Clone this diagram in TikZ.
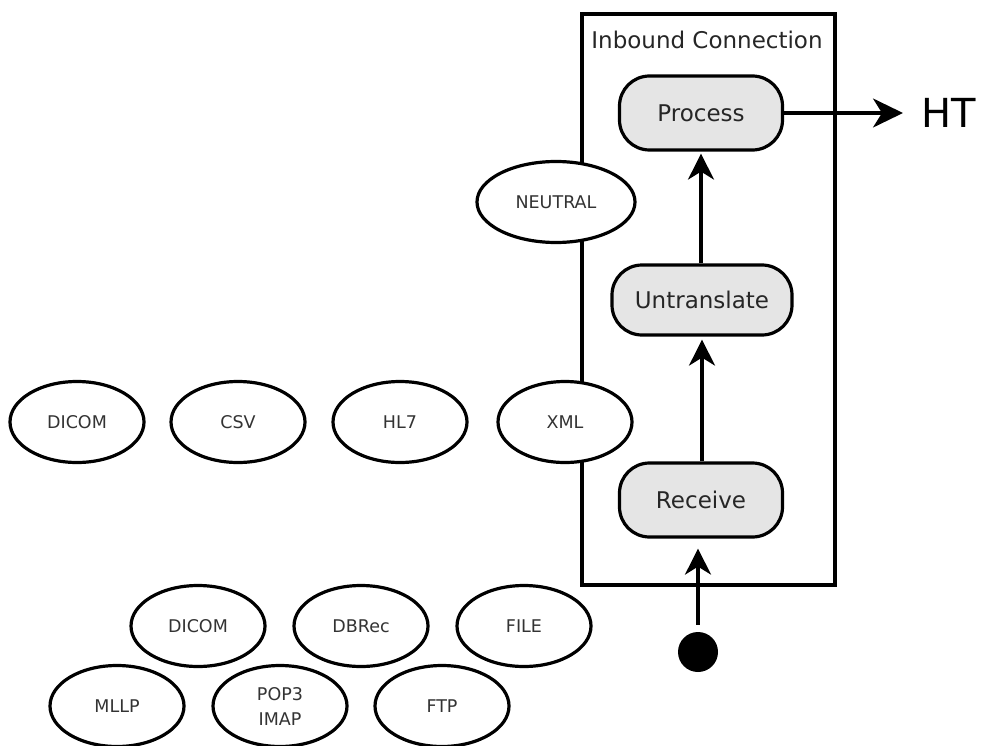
\documentclass[tikz,border=0pt]{standalone}
\usepackage{fontspec}
\setmainfont{DejaVu Sans}
\usetikzlibrary{shapes.geometric,arrows.meta}
\begin{document}
\begin{tikzpicture}[x=1pt,y=-1pt,
  fmt/.style={ellipse,draw,line width=3.2pt,fill=white,minimum width=134pt,minimum height=81pt,
    inner sep=0pt,text=black!80,font=\fontsize{17.5}{25}\selectfont,align=center},
  stage/.style={draw,line width=3.2pt,rounded corners=30pt,fill=black!10,minimum height=74pt,
    inner sep=0pt,text=black!85,font=\fontsize{23}{27}\selectfont},
  flow/.style={line width=3.2pt,-{Stealth[length=26pt,width=26pt,inset=8pt]}},
  dot/.style={circle,fill=black,minimum size=40pt,inner sep=0pt}]
\useasboundingbox (0,0) rectangle (982,746);

% inbound connection container
\draw[line width=3.2pt] (582,14) rectangle (835,585);
\node[text=black!85,font=\fontsize{23}{27}\selectfont] (title) at (707,40) {Inbound Connection};

% pipeline stages
\node[stage,minimum width=163pt] (proc) at (701,113) {Process};
\node[stage,minimum width=180pt,minimum height=70pt] (untr) at (702,300) {Untranslate};
\node[stage,minimum width=163pt] (recv) at (701,500) {Receive};
\node[dot] (start) at (698,652) {};
\node[font=\fontsize{40}{44}\selectfont,anchor=west,inner sep=0pt] (ht) at (921,113) {HT};

\draw[flow,shorten <=7pt,shorten >=10pt] (start.north) -- (start.north |- recv.south);
\draw[flow,shorten >=3pt] (recv.north -| untr.south) -- (untr.south);
\draw[flow,shorten >=2pt] (untr.north -| proc.south) -- (proc.south);
\draw[flow,-{Stealth[length=30pt,width=29pt,inset=9pt]}] (proc.east) -- (903,113);

% message formats
\node[fmt,minimum width=158pt] (neutral) at (556,202) {NEUTRAL};
\node[fmt] (xml) at (565,422) {XML};
\node[fmt] (dicomA) at (77,422) {DICOM};
\node[fmt] (csv) at (238,422) {CSV};
\node[fmt] (hl7) at (400,422) {HL7};

% transports
\node[fmt] (dicomB) at (198,626) {DICOM};
\node[fmt] (dbrec) at (361,626) {DBRec};
\node[fmt] (file) at (524,626) {FILE};
\node[fmt] (mllp) at (117,706) {MLLP};
\node[fmt] (pop) at (280,706) {POP3\\IMAP};
\node[fmt] (ftp) at (442,706) {FTP};
\end{tikzpicture}
\end{document}
